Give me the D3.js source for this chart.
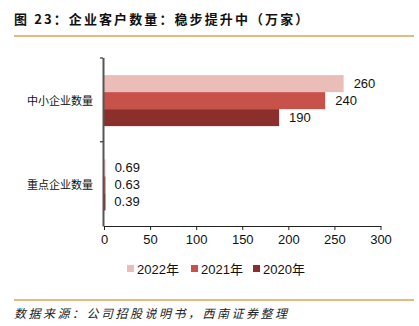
<!DOCTYPE html>
<html><head><meta charset="utf-8">
<script src="https://cdn.jsdelivr.net/npm/d3@7"></script>
<style>body{margin:0;background:#fff;}svg{display:block;}</style>
</head><body>
<svg id="c" width="419" height="326"></svg>
<script>
const categories = ["中小企业数量", "重点企业数量"];
const seriesNames = ["2022年", "2021年", "2020年"];
const values2022 = [260, 0.69];
const values2021 = [240, 0.63];
const values2020 = [190, 0.39];
const valueLabels2022 = ["260", "0.69"];
const valueLabels2021 = ["240", "0.63"];
const valueLabels2020 = ["190", "0.39"];
const xTicks = [0, 50, 100, 150, 200, 250, 300];
const colors = ["#EBBDB8", "#C6524A", "#8A2F2B"];

const series = [
  {name: seriesNames[0], values: values2022, labels: valueLabels2022, color: colors[0]},
  {name: seriesNames[1], values: values2021, labels: valueLabels2021, color: colors[1]},
  {name: seriesNames[2], values: values2020, labels: valueLabels2020, color: colors[2]}
];

const svg = d3.select("#c");
const font = "Liberation Sans, Arial, Noto Sans CJK SC, sans-serif";
const cjk = "Noto Sans CJK SC, sans-serif";

// title
svg.append("text").attr("x", 14).attr("y", 24)
  .attr("font-family", cjk).attr("font-size", 13).attr("font-weight", "bold").attr("fill", "#111")
  .attr("letter-spacing", 2.1)
  .text("图 23：企业客户数量：稳步提升中（万家）");
svg.append("line").attr("x1", 14).attr("x2", 414).attr("y1", 36).attr("y2", 36)
  .attr("stroke", "#D9A552").attr("stroke-width", 1.5);

const x = d3.scaleLinear().domain([0, 300]).range([104, 380.5]);
const y = d3.scaleBand().domain(categories).range([57.5, 226]);
const barH = 17;

const g = svg.append("g");
series.forEach((s, k) => {
  categories.forEach((c, i) => {
    const y0 = y(c) + y.bandwidth() / 2 - 1.5 * barH + k * barH + 1;
    g.append("rect")
      .attr("x", x(0)).attr("y", y0)
      .attr("width", Math.max(x(s.values[i]) - x(0), 1.5)).attr("height", barH)
      .attr("fill", s.color);
    g.append("text")
      .attr("x", x(s.values[i]) + 10).attr("y", y0 + barH / 2)
      .attr("dy", "0.35em").attr("font-family", font).attr("font-size", 13).attr("fill", "#111")
      .text(s.labels[i]);
  });
});

// y axis
const ya = svg.append("g").attr("transform", `translate(103,2)`)
  .call(d3.axisLeft(y).tickSize(0).tickPadding(10).tickSizeOuter(0));
ya.select(".domain").attr("transform", "translate(0,-2)").attr("stroke", "#555").attr("stroke-width", 2);
ya.selectAll("text").attr("font-family", cjk).attr("font-size", 11).attr("fill", "#111");
// top outer tick and separator tick between categories
svg.append("line").attr("x1", 100).attr("x2", 103).attr("y1", y.range()[0] + 0.5).attr("y2", y.range()[0] + 0.5)
  .attr("stroke", "#333").attr("stroke-width", 1.2);
svg.append("line").attr("x1", 100).attr("x2", 103).attr("y1", y(categories[1])).attr("y2", y(categories[1]))
  .attr("stroke", "#333").attr("stroke-width", 1.2);

// x axis
const xa = svg.append("g").attr("transform", `translate(0,226)`)
  .call(d3.axisBottom(x).tickValues(xTicks).tickSize(4).tickSizeOuter(0).tickPadding(5));
xa.select(".domain").attr("stroke", "#222").attr("stroke-width", 1.2);
xa.selectAll(".tick line").attr("stroke", "#222");
xa.selectAll("text").attr("font-family", font).attr("font-size", 13).attr("fill", "#111");

// legend
const legX = [127, 191, 253];
series.forEach((s, i) => {
  svg.append("rect").attr("x", legX[i]).attr("y", 265).attr("width", 7).attr("height", 7).attr("fill", s.color);
  svg.append("text").attr("x", legX[i] + 10).attr("y", 269).attr("dy", "0.35em")
    .attr("font-family", font).attr("font-size", 13).attr("fill", "#111").text(s.name);
});

// source
svg.append("line").attr("x1", 14).attr("x2", 414).attr("y1", 300).attr("y2", 300)
  .attr("stroke", "#D9A552").attr("stroke-width", 1.5);
svg.append("text").attr("x", 14).attr("y", 318)
  .attr("font-family", cjk).attr("font-size", 12).attr("font-style", "italic").attr("fill", "#222")
  .attr("letter-spacing", 2.5)
  .text("数据来源：公司招股说明书，西南证券整理");
</script>
</body></html>
